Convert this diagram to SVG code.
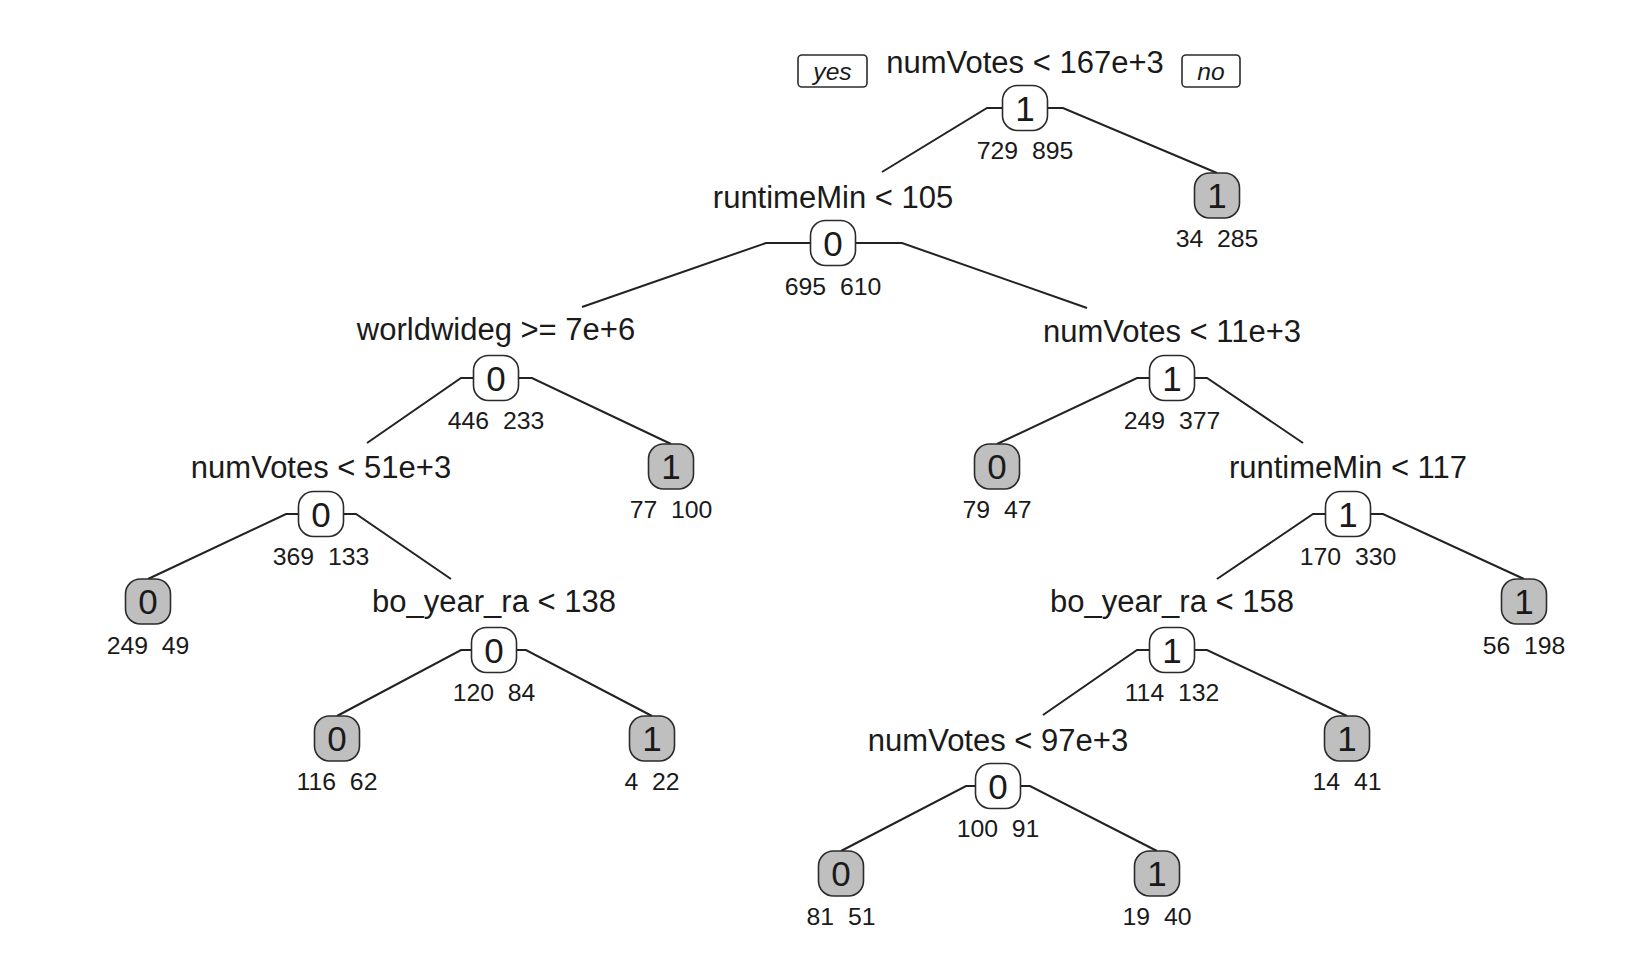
<svg xmlns="http://www.w3.org/2000/svg" width="1646" height="960" viewBox="0 0 1646 960">
<style>
text{font-family:"Liberation Sans",Arial,sans-serif;fill:#1a1a1a;text-anchor:middle}
.lab{font-size:31px}
.cnt{font-size:24.8px;white-space:pre}
.dig{font-size:35px}
.yn{font-size:24.6px;font-style:italic}
.box{stroke:#2b2b2b;stroke-width:1.6}
.int{fill:#ffffff}
.leaf{fill:#bfbfbf}
.ynbox{fill:#ffffff;stroke:#2b2b2b;stroke-width:1.6}
#connectors path{fill:none;stroke:#222;stroke-width:2}
</style>
<rect width="1646" height="960" fill="#ffffff"/>
<g id="connectors">
<path d="M1002.5,108 H987 L882,172"/>
<path d="M1047.5,108 H1063 L1217,173"/>
<path d="M810.5,243 H766 L582,307"/>
<path d="M855.5,243 H902 L1087,308"/>
<path d="M473.5,378 H461 L367,443"/>
<path d="M518.5,378 H532 L671,444"/>
<path d="M1149.5,378 H1137 L997,444"/>
<path d="M1194.5,378 H1207 L1303,443"/>
<path d="M298.5,514 H286 L148,579"/>
<path d="M343.5,514 H356 L451,579"/>
<path d="M1325.5,514 H1313 L1217,579"/>
<path d="M1370.5,514 H1383 L1524,579"/>
<path d="M471.5,650 H461 L337,716"/>
<path d="M516.5,650 H526 L652,716"/>
<path d="M1149.5,650 H1137 L1043,715"/>
<path d="M1194.5,650 H1207 L1347,716"/>
<path d="M975.5,786 H966 L841,851"/>
<path d="M1020.5,786 H1030 L1157,851"/>
</g>
<g id="yes-label"><rect class="ynbox" x="798" y="55" width="69" height="32" rx="4"/><text class="yn" x="832.5" y="80">yes</text></g>
<g id="no-label"><rect class="ynbox" x="1182" y="55" width="58" height="32" rx="4"/><text class="yn" x="1211" y="80">no</text></g>
<g id="n1"><text class="lab" x="1025" y="73">numVotes &lt; 167e+3</text><rect class="box int" x="1002.5" y="85.5" width="45" height="45" rx="15"/><text class="dig" x="1025" y="120.5">1</text><text class="cnt" x="1025" y="159" xml:space="preserve">729  895</text></g>
<g id="n3"><rect class="box leaf" x="1194.5" y="173" width="45" height="45" rx="15"/><text class="dig" x="1217" y="208">1</text><text class="cnt" x="1217" y="247" xml:space="preserve">34  285</text></g>
<g id="n2"><text class="lab" x="833" y="208">runtimeMin &lt; 105</text><rect class="box int" x="810.5" y="220.5" width="45" height="45" rx="15"/><text class="dig" x="833" y="255.5">0</text><text class="cnt" x="833" y="295" xml:space="preserve">695  610</text></g>
<g id="n4"><text class="lab" x="496" y="340">worldwideg &gt;= 7e+6</text><rect class="box int" x="473.5" y="355.5" width="45" height="45" rx="15"/><text class="dig" x="496" y="390.5">0</text><text class="cnt" x="496" y="429" xml:space="preserve">446  233</text></g>
<g id="n5"><text class="lab" x="1172" y="342">numVotes &lt; 11e+3</text><rect class="box int" x="1149.5" y="355.5" width="45" height="45" rx="15"/><text class="dig" x="1172" y="390.5">1</text><text class="cnt" x="1172" y="429" xml:space="preserve">249  377</text></g>
<g id="n9"><rect class="box leaf" x="648.5" y="444" width="45" height="45" rx="15"/><text class="dig" x="671" y="479">1</text><text class="cnt" x="671" y="518" xml:space="preserve">77  100</text></g>
<g id="n10"><rect class="box leaf" x="974.5" y="444" width="45" height="45" rx="15"/><text class="dig" x="997" y="479">0</text><text class="cnt" x="997" y="518" xml:space="preserve">79  47</text></g>
<g id="n8"><text class="lab" x="321" y="478">numVotes &lt; 51e+3</text><rect class="box int" x="298.5" y="491.5" width="45" height="45" rx="15"/><text class="dig" x="321" y="526.5">0</text><text class="cnt" x="321" y="565" xml:space="preserve">369  133</text></g>
<g id="n11"><text class="lab" x="1348" y="478">runtimeMin &lt; 117</text><rect class="box int" x="1325.5" y="491.5" width="45" height="45" rx="15"/><text class="dig" x="1348" y="526.5">1</text><text class="cnt" x="1348" y="565" xml:space="preserve">170  330</text></g>
<g id="n16"><rect class="box leaf" x="125.5" y="579" width="45" height="45" rx="15"/><text class="dig" x="148" y="614">0</text><text class="cnt" x="148" y="654" xml:space="preserve">249  49</text></g>
<g id="n17"><text class="lab" x="494" y="612">bo_year_ra &lt; 138</text><rect class="box int" x="471.5" y="627.5" width="45" height="45" rx="15"/><text class="dig" x="494" y="662.5">0</text><text class="cnt" x="494" y="701" xml:space="preserve">120  84</text></g>
<g id="n22"><text class="lab" x="1172" y="612">bo_year_ra &lt; 158</text><rect class="box int" x="1149.5" y="627.5" width="45" height="45" rx="15"/><text class="dig" x="1172" y="662.5">1</text><text class="cnt" x="1172" y="701" xml:space="preserve">114  132</text></g>
<g id="n23"><rect class="box leaf" x="1501.5" y="579" width="45" height="45" rx="15"/><text class="dig" x="1524" y="614">1</text><text class="cnt" x="1524" y="654" xml:space="preserve">56  198</text></g>
<g id="n34"><rect class="box leaf" x="314.5" y="716" width="45" height="45" rx="15"/><text class="dig" x="337" y="751">0</text><text class="cnt" x="337" y="790" xml:space="preserve">116  62</text></g>
<g id="n35"><rect class="box leaf" x="629.5" y="716" width="45" height="45" rx="15"/><text class="dig" x="652" y="751">1</text><text class="cnt" x="652" y="790" xml:space="preserve">4  22</text></g>
<g id="n44"><text class="lab" x="998" y="751">numVotes &lt; 97e+3</text><rect class="box int" x="975.5" y="763.5" width="45" height="45" rx="15"/><text class="dig" x="998" y="798.5">0</text><text class="cnt" x="998" y="837" xml:space="preserve">100  91</text></g>
<g id="n45"><rect class="box leaf" x="1324.5" y="716" width="45" height="45" rx="15"/><text class="dig" x="1347" y="751">1</text><text class="cnt" x="1347" y="790" xml:space="preserve">14  41</text></g>
<g id="n88"><rect class="box leaf" x="818.5" y="851" width="45" height="45" rx="15"/><text class="dig" x="841" y="886">0</text><text class="cnt" x="841" y="925" xml:space="preserve">81  51</text></g>
<g id="n89"><rect class="box leaf" x="1134.5" y="851" width="45" height="45" rx="15"/><text class="dig" x="1157" y="886">1</text><text class="cnt" x="1157" y="925" xml:space="preserve">19  40</text></g>
</svg>
